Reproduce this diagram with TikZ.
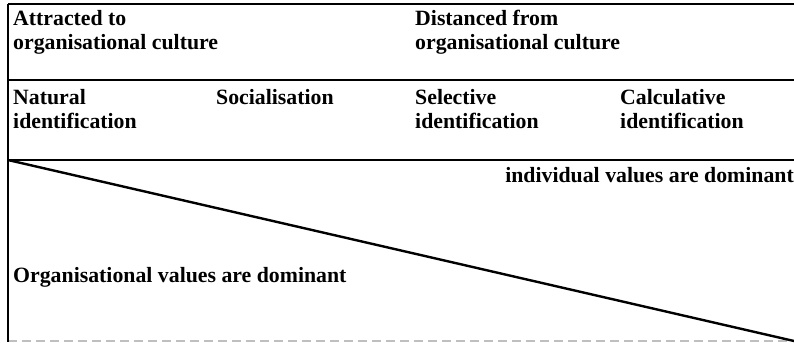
\documentclass[tikz,border=0pt]{standalone}
\usepackage{fontspec}
\setmainfont{Liberation Serif}
\begin{document}
\begin{tikzpicture}[x=1bp,y=-1bp,
  rule/.style={line width=1.8bp,black},
  label/.style={anchor=base west,inner sep=0pt,align=left,
    font=\fontsize{21.8bp}{24bp}\selectfont\bfseries},
  fadedrule/.style={line width=1.2bp,black!25,dash pattern=on 9bp off 5bp}]
  \useasboundingbox (0,0) rectangle (794,342);

  % frame: left edge and the three horizontal rules
  \coordinate (tl) at (8,4);
  \coordinate (tr) at (794,4);
  \coordinate (ml) at (8,80);
  \coordinate (mr) at (794,80);
  \coordinate (bl) at (8,160);
  \coordinate (br) at (794,160);
  \coordinate (foot) at (8,342);
  \coordinate (footl) at (8,341);
  \coordinate (footr) at (794,341);

  \draw[fadedrule] (footl) -- (footr);
  \draw[rule] (tl) -- (tr);
  \draw[rule] (ml) -- (mr);
  \draw[rule] (bl) -- (br);
  \draw[rule] (tl) -- (foot);

  % diagonal dividing the two value regions
  \draw[line width=2.4bp] (bl) -- (footr);

  % header row (anchored at the baseline of the second line)
  \node[label] (attr) at (13,49) {Attracted to\\organisational culture};
  \node[label] (dist) at (415,49) {Distanced from\\organisational culture};

  % identification types
  \node[label] (nat) at (13,128) {Natural\\identification};
  \node[label] (soc) at (216,104) {Socialisation};
  \node[label] (sel) at (415,128) {Selective\\identification};
  \node[label] (calc) at (620,128) {Calculative\\identification};

  % value regions
  \node[label,anchor=base east] (indiv) at (794,182) {individual values are dominant};
  \node[label] (org) at (13,282) {Organisational values are dominant};
\end{tikzpicture}
\end{document}
